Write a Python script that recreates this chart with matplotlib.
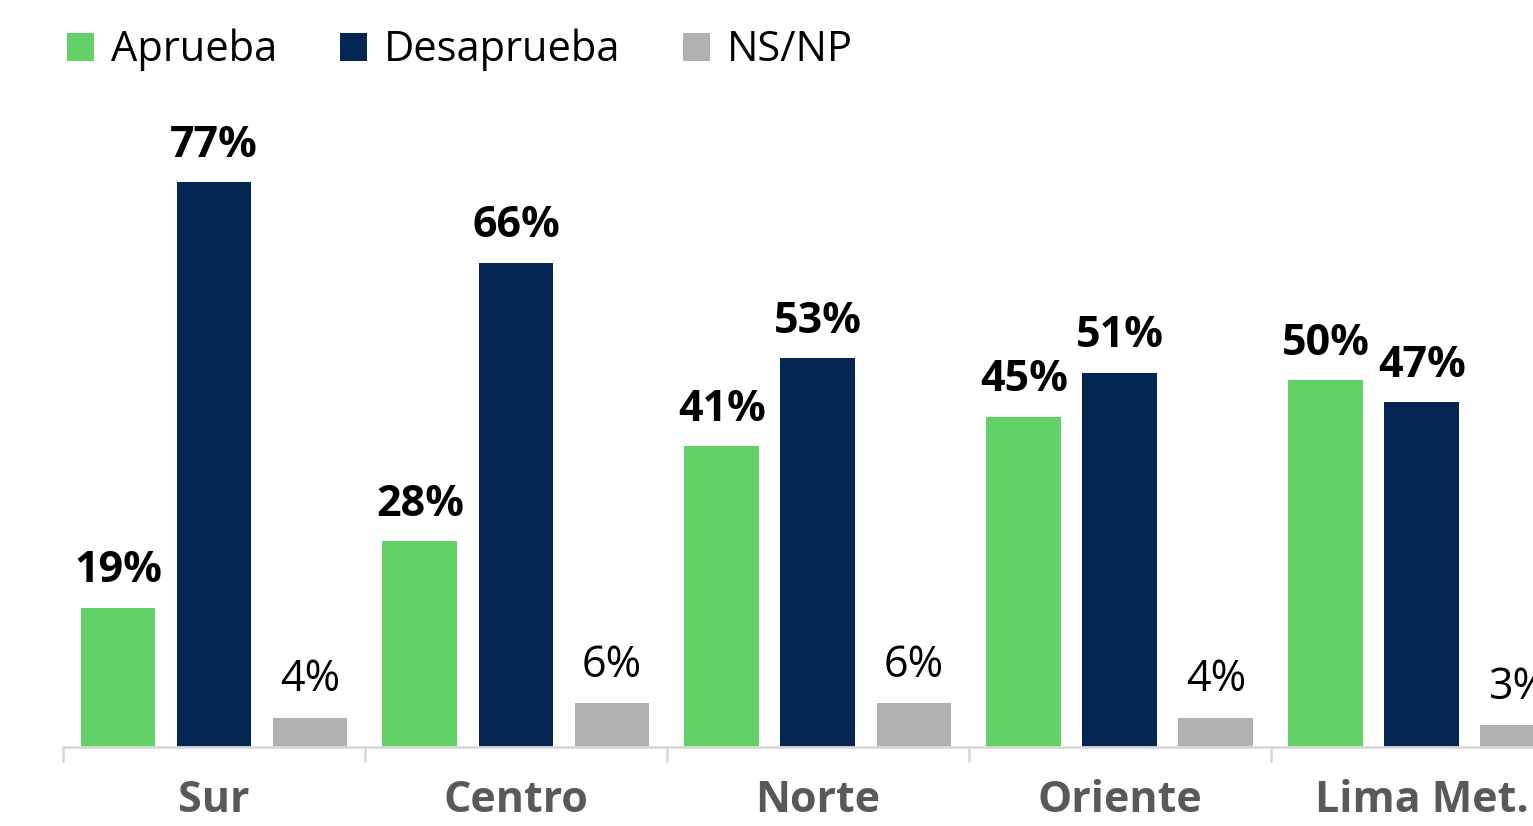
import numpy as np
import matplotlib.pyplot as plt

plt.rcParams['font.family'] = ['Open Sans', 'DejaVu Sans']

# datos por región
regiones = ['Sur', 'Centro', 'Norte', 'Oriente', 'Lima Met.']
aprueba = [19, 28, 41, 45, 50]
desaprueba = [77, 66, 53, 51, 47]
nsnp = [4, 6, 6, 4, 3]

series = [
    ('Aprueba', aprueba, '#62D268', 'bold'),
    ('Desaprueba', desaprueba, '#032653', 'bold'),
    ('NS/NP', nsnp, '#B1B1B1', 'normal'),
]

fig = plt.figure(figsize=(15.33, 8.26), dpi=100)
ax = fig.add_axes([63 / 1533, 79 / 826, 1 - 63 / 1533, 647 / 826])

x = np.arange(len(regiones))
ancho = 0.248
paso = 0.318

for k, (nombre, vals, color, peso) in enumerate(series):
    pos = x + (k - 1) * paso
    barras = ax.bar(pos, vals, width=ancho, color=color, label=nombre)
    for b, v in zip(barras, vals):
        ax.annotate(f'{v}%', (b.get_x() + b.get_width() / 2, b.get_height()),
                    xytext=(0, 11), textcoords='offset points',
                    ha='center', va='bottom', fontsize=31, fontweight=peso,
                    color='black')

ax.set_xlim(-0.5, 4.368)
ax.set_ylim(0, 88.15)

# ejes
for s in ['top', 'right', 'left']:
    ax.spines[s].set_visible(False)
ax.spines['bottom'].set_color('#D9D9D9')
ax.spines['bottom'].set_linewidth(2)
ax.set_yticks([])
ax.set_xticks(np.arange(len(regiones)) - 0.5, minor=False)
ax.set_xticklabels([])
ax.tick_params(axis='x', length=11, width=2, color='#D9D9D9')
ax.set_xticks(x, minor=True)
ax.set_xticklabels(regiones, minor=True, fontsize=31, fontweight='bold',
                   color='#595959')
ax.tick_params(axis='x', which='minor', length=0, pad=23)

fig.legend(loc='upper left', bbox_to_anchor=(50 / 1533, 1 - 12 / 826),
           ncol=3, frameon=False, fontsize=30, handlelength=0.66,
           handleheight=0.66, handletextpad=0.4, columnspacing=1.5,
           borderaxespad=0)

plt.savefig('out.png', dpi=100)
